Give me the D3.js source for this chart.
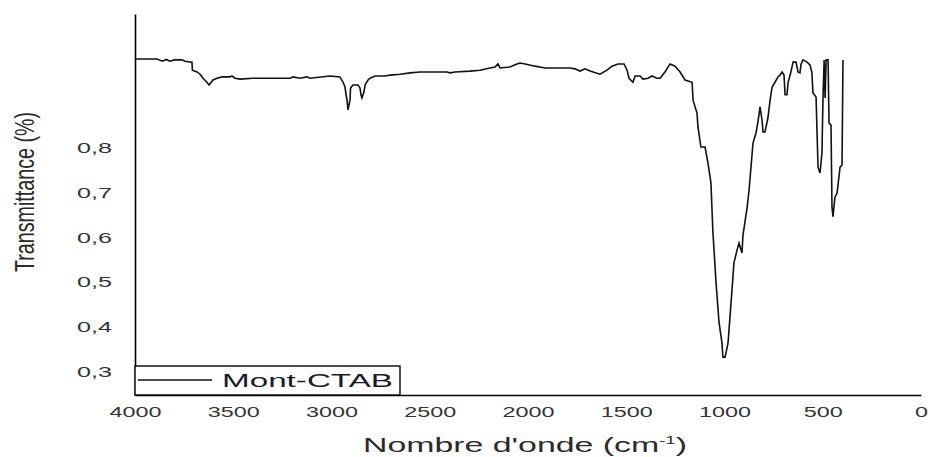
<!DOCTYPE html>
<html>
<head>
<meta charset="utf-8">
<script src="https://cdn.jsdelivr.net/npm/d3@7"></script>
<style>
  html, body { margin: 0; padding: 0; background: #fff; }
  svg { display: block; font-family: 'Liberation Sans', Arial, sans-serif; }
</style>
</head>
<body>
<div id="chart"></div>
<script>
// IR spectrum, Mont-CTAB
const wavenumber = [
  3998, 3888, 3860, 3840, 3822, 3800, 3760, 3746, 3710, 3708, 3684, 3669, 3654, 3634, 3623,
  3603, 3583, 3557, 3517, 3506, 3491, 3466, 3400, 3211, 3196, 3160, 3125, 3109, 3008, 2957,
  2941, 2931, 2926, 2921, 2916, 2906, 2903, 2891, 2865, 2855, 2850, 2845, 2835, 2829, 2814,
  2804, 2779, 2728, 2702, 2651, 2600, 2550, 2499, 2412, 2397, 2371, 2295, 2244, 2193, 2168,
  2153, 2142, 2092, 2066, 2041, 2015, 1964, 1913, 1786, 1761, 1735, 1710, 1684, 1634, 1598,
  1573, 1542, 1511, 1496, 1486, 1466, 1455, 1430, 1415, 1389, 1369, 1344, 1328, 1303, 1277,
  1252, 1226, 1201, 1165, 1160, 1140, 1135, 1120, 1099, 1084, 1069, 1059, 1043, 1028, 1013,
  1008, 997, 982, 972, 962, 952, 936, 926, 911, 906, 885, 875, 865, 855, 840,
  830, 819, 809, 804, 794, 779, 768, 758, 743, 728, 718, 707, 697, 692, 682,
  677, 662, 651, 636, 626, 616, 611, 601, 580, 565, 555, 550, 534, 529, 524,
  514, 504, 499, 493, 488, 483, 473, 468, 458, 453, 448, 438, 427, 412, 402,
  397
];
const transmittance = [
  0.998, 0.998, 0.993, 0.997, 0.993, 0.996, 0.996, 0.993, 0.991, 0.973, 0.969, 0.964, 0.955, 0.946, 0.940,
  0.951, 0.955, 0.958, 0.958, 0.960, 0.955, 0.953, 0.955, 0.955, 0.958, 0.955, 0.958, 0.955, 0.960, 0.958,
  0.946, 0.935, 0.918, 0.906, 0.884, 0.906, 0.933, 0.940, 0.940, 0.933, 0.918, 0.911, 0.924, 0.940, 0.951,
  0.955, 0.960, 0.960, 0.962, 0.964, 0.967, 0.969, 0.969, 0.969, 0.967, 0.969, 0.971, 0.973, 0.978, 0.980,
  0.987, 0.978, 0.980, 0.985, 0.989, 0.987, 0.982, 0.978, 0.978, 0.976, 0.971, 0.976, 0.971, 0.964, 0.973,
  0.982, 0.987, 0.987, 0.973, 0.955, 0.946, 0.960, 0.960, 0.953, 0.955, 0.960, 0.955, 0.955, 0.969, 0.987,
  0.982, 0.969, 0.951, 0.946, 0.906, 0.877, 0.846, 0.801, 0.801, 0.765, 0.721, 0.611, 0.497, 0.410, 0.363,
  0.331, 0.331, 0.363, 0.421, 0.481, 0.542, 0.571, 0.586, 0.564, 0.604, 0.665, 0.705, 0.757, 0.810, 0.832,
  0.857, 0.891, 0.861, 0.835, 0.835, 0.866, 0.906, 0.935, 0.946, 0.958, 0.962, 0.969, 0.962, 0.918, 0.918,
  0.944, 0.969, 0.991, 0.991, 0.969, 0.967, 0.985, 0.996, 0.991, 0.985, 0.967, 0.922, 0.913, 0.832, 0.756,
  0.743, 0.788, 0.906, 0.996, 0.911, 0.996, 0.996, 0.855, 0.850, 0.667, 0.645, 0.689, 0.698, 0.756, 0.761,
  0.996
];
const xTicks = [4000, 3500, 3000, 2500, 2000, 1500, 1000, 500, 0];
const yTicks = [0.3, 0.4, 0.5, 0.6, 0.7, 0.8];
const seriesName = 'Mont-CTAB';

const width = 930, height = 457;
const plotLeft = 135, plotRight = 921, plotTop = 14, plotBottom = 395;

const svg = d3.select('#chart').append('svg')
  .attr('width', width)
  .attr('height', height);

const x = d3.scaleLinear().domain([4000, 0]).range([plotLeft, plotRight]);
const y = d3.scaleLinear().domain([0.2463, 1.0987]).range([plotBottom, plotTop]);

const points = wavenumber.map((w, i) => ({ w: w, t: transmittance[i] }));

// axes (no tick marks, only labels)
const xAxis = svg.append('g')
  .attr('transform', `translate(0,${plotBottom})`)
  .call(d3.axisBottom(x).tickValues(xTicks).tickSize(0).tickSizeOuter(0).tickFormat(d3.format('d')));
xAxis.select('.domain').attr('stroke', '#000').attr('stroke-width', 1.6);
xAxis.selectAll('text')
  .attr('y', 22)
  .attr('dy', '0')
  .attr('font-size', 15)
  .attr('fill', '#333')
  .attr('textLength', d => String(d).length * 13)
  .attr('lengthAdjust', 'spacingAndGlyphs');

const yAxis = svg.append('g')
  .attr('transform', `translate(${plotLeft},0)`)
  .call(d3.axisLeft(y).tickValues(yTicks).tickSize(0).tickSizeOuter(0)
    .tickFormat(d => d3.format('.1f')(d).replace('.', ',')));
yAxis.select('.domain').attr('stroke', '#000').attr('stroke-width', 1.6);
yAxis.selectAll('text')
  .attr('x', -23)
  .attr('dy', '0.35em')
  .attr('font-size', 15)
  .attr('fill', '#333')
  .attr('textLength', 35)
  .attr('lengthAdjust', 'spacingAndGlyphs');

// axis titles
const xTitle = svg.append('text')
  .attr('x', 525)
  .attr('y', 452)
  .attr('text-anchor', 'middle')
  .attr('font-size', 20)
  .attr('fill', '#2a2a2a')
  .attr('textLength', 324)
  .attr('lengthAdjust', 'spacingAndGlyphs');
xTitle.append('tspan').text("Nombre d'onde (cm");
xTitle.append('tspan').attr('font-size', 11).attr('dy', -8).text('-1');
xTitle.append('tspan').attr('dy', 8).text(')');

svg.append('text')
  .attr('transform', 'translate(34,192) rotate(-90) scale(1,1.5)')
  .attr('text-anchor', 'middle')
  .attr('font-size', 19)
  .attr('fill', '#2a2a2a')
  .attr('textLength', 160)
  .attr('lengthAdjust', 'spacingAndGlyphs')
  .text('Transmittance (%)');

// spectrum
const line = d3.line()
  .x(d => x(d.w))
  .y(d => y(d.t));

svg.append('path')
  .datum(points)
  .attr('fill', 'none')
  .attr('stroke', '#111')
  .attr('stroke-width', 1.6)
  .attr('stroke-linejoin', 'miter')
  .attr('d', line);

// legend
const legend = svg.append('g');
legend.append('rect')
  .attr('x', plotLeft)
  .attr('y', 366)
  .attr('width', 265)
  .attr('height', plotBottom - 366)
  .attr('fill', '#fff')
  .attr('stroke', '#000')
  .attr('stroke-width', 1.4);
legend.append('line')
  .attr('x1', plotLeft + 3)
  .attr('x2', 212)
  .attr('y1', 380)
  .attr('y2', 380)
  .attr('stroke', '#111')
  .attr('stroke-width', 1.4);
legend.append('text')
  .attr('x', 222)
  .attr('y', 387)
  .attr('font-size', 18)
  .attr('fill', '#1a1a2a')
  .attr('textLength', 171)
  .attr('lengthAdjust', 'spacingAndGlyphs')
  .text(seriesName);
</script>
</body>
</html>
